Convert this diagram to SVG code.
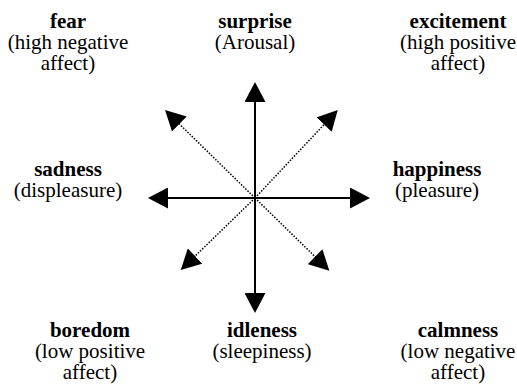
<svg xmlns="http://www.w3.org/2000/svg" width="517" height="385" viewBox="0 0 517 385">
<style>
text{font-family:"Liberation Serif","Times New Roman",serif;font-size:21px;fill:#000;text-anchor:middle}
.b{font-weight:bold}
.solid{stroke:#000;stroke-width:2;fill:none}
.dot{stroke:#000;stroke-width:1.5;stroke-dasharray:1.5 1.5;fill:none}
</style>
<defs>
<marker id="ah" markerUnits="userSpaceOnUse" markerWidth="20" markerHeight="21" refX="10" refY="10.5" orient="auto" viewBox="0 0 20 21">
<path d="M0,0 L20,10.5 L0,21 Z" fill="#000"/>
</marker>
</defs>
<rect width="517" height="385" fill="#fff"/>
<g id="connectors">
<line class="solid" x1="255" y1="198" x2="255" y2="92" marker-end="url(#ah)"/>
<line class="solid" x1="255" y1="198" x2="255" y2="303" marker-end="url(#ah)"/>
<line class="solid" x1="255" y1="198" x2="158" y2="198" marker-end="url(#ah)"/>
<line class="solid" x1="255" y1="198" x2="360" y2="198" marker-end="url(#ah)"/>
<line class="dot" x1="255" y1="198" x2="172.2" y2="117" marker-end="url(#ah)"/>
<line class="dot" x1="255" y1="198" x2="330.9" y2="117.3" marker-end="url(#ah)"/>
<line class="dot" x1="255" y1="198" x2="187.9" y2="263" marker-end="url(#ah)"/>
<line class="dot" x1="255" y1="198" x2="322.2" y2="263.7" marker-end="url(#ah)"/>
</g>
<g id="fear"><text class="b" x="68" y="28">fear</text><text x="68" y="49">(high negative</text><text x="68" y="70">affect)</text></g>
<g id="surprise"><text class="b" x="255" y="28">surprise</text><text x="255" y="49">(Arousal)</text></g>
<g id="excitement"><text class="b" x="458" y="28">excitement</text><text x="458" y="49">(high positive</text><text x="458" y="70">affect)</text></g>
<g id="sadness"><text class="b" x="68" y="176">sadness</text><text x="68" y="197">(displeasure)</text></g>
<g id="happiness"><text class="b" x="437" y="176">happiness</text><text x="437" y="197">(pleasure)</text></g>
<g id="boredom"><text class="b" x="90" y="337">boredom</text><text x="90" y="358">(low positive</text><text x="90" y="379">affect)</text></g>
<g id="idleness"><text class="b" x="262" y="337">idleness</text><text x="262" y="358">(sleepiness)</text></g>
<g id="calmness"><text class="b" x="458" y="337">calmness</text><text x="458" y="358">(low negative</text><text x="458" y="379">affect)</text></g>
</svg>
